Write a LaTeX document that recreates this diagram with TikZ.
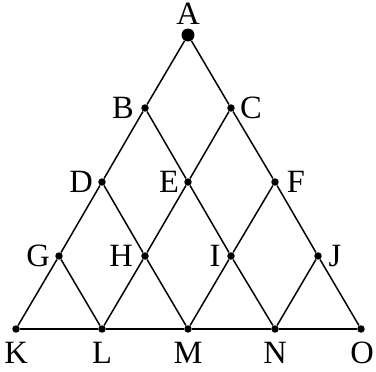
\documentclass[tikz,border=0pt]{standalone}
\usepackage{fontspec}
\setmainfont{Liberation Serif}
\usetikzlibrary{positioning}

\begin{document}
\begin{tikzpicture}[x=0.02cm, y=-0.02cm,
    dot/.style={circle, fill=black, inner sep=0pt, minimum size=0.15cm},
    topdot/.style={circle, fill=black, inner sep=0pt, minimum size=0.26cm},
    lbl/.style={font=\fontsize{18.5}{22}\selectfont, inner sep=0pt},
    edge/.style={line width=0.85pt}]
    \useasboundingbox (0,0) rectangle (376,372);

    % Points, row by row
    \node[topdot] (A) at (188,35) {};
    \node[dot] (B) at (145,108) {};
    \node[dot] (C) at (231,108) {};
    \node[dot] (D) at (102,182) {};
    \node[dot] (E) at (188,182) {};
    \node[dot] (F) at (275,182) {};
    \node[dot] (G) at (59,256) {};
    \node[dot] (H) at (145,256) {};
    \node[dot] (I) at (231,256) {};
    \node[dot] (J) at (318,256) {};
    \node[dot] (K) at (16,329) {};
    \node[dot] (L) at (102,329) {};
    \node[dot] (M) at (188,329) {};
    \node[dot] (N) at (275,329) {};
    \node[dot] (O) at (361,329) {};

    % Letters
    \node[lbl] (lA) at (188,14) {A};
    \node[lbl] (lB) at (123,108) {B};
    \node[lbl] (lC) at (251,108) {C};
    \node[lbl] (lD) at (81,182) {D};
    \node[lbl] (lE) at (169,182) {E};
    \node[lbl] (lF) at (296,182) {F};
    \node[lbl] (lG) at (38,256) {G};
    \node[lbl] (lH) at (121,256) {H};
    \node[lbl] (lI) at (215,256) {I};
    \node[lbl] (lJ) at (335,256) {J};
    \node[lbl] (lK) at (16,353) {K};
    \node[lbl] (lL) at (102,353) {L};
    \node[lbl] (lM) at (188,353) {M};
    \node[lbl] (lN) at (275,353) {N};
    \node[lbl] (lO) at (362,353) {O};

    % Outer triangle
    \draw[edge] (A) -- (B) -- (D) -- (G) -- (K);
    \draw[edge] (A) -- (C) -- (F) -- (J) -- (O);
    \draw[edge] (K) -- (L) -- (M) -- (N) -- (O);

    % Inner lines
    \draw[edge] (B) -- (E) -- (I) -- (N);
    \draw[edge] (D) -- (H) -- (M);
    \draw[edge] (G) -- (L);
    \draw[edge] (C) -- (E) -- (H) -- (L);
    \draw[edge] (F) -- (I) -- (M);
    \draw[edge] (J) -- (N);
\end{tikzpicture}
\end{document}
